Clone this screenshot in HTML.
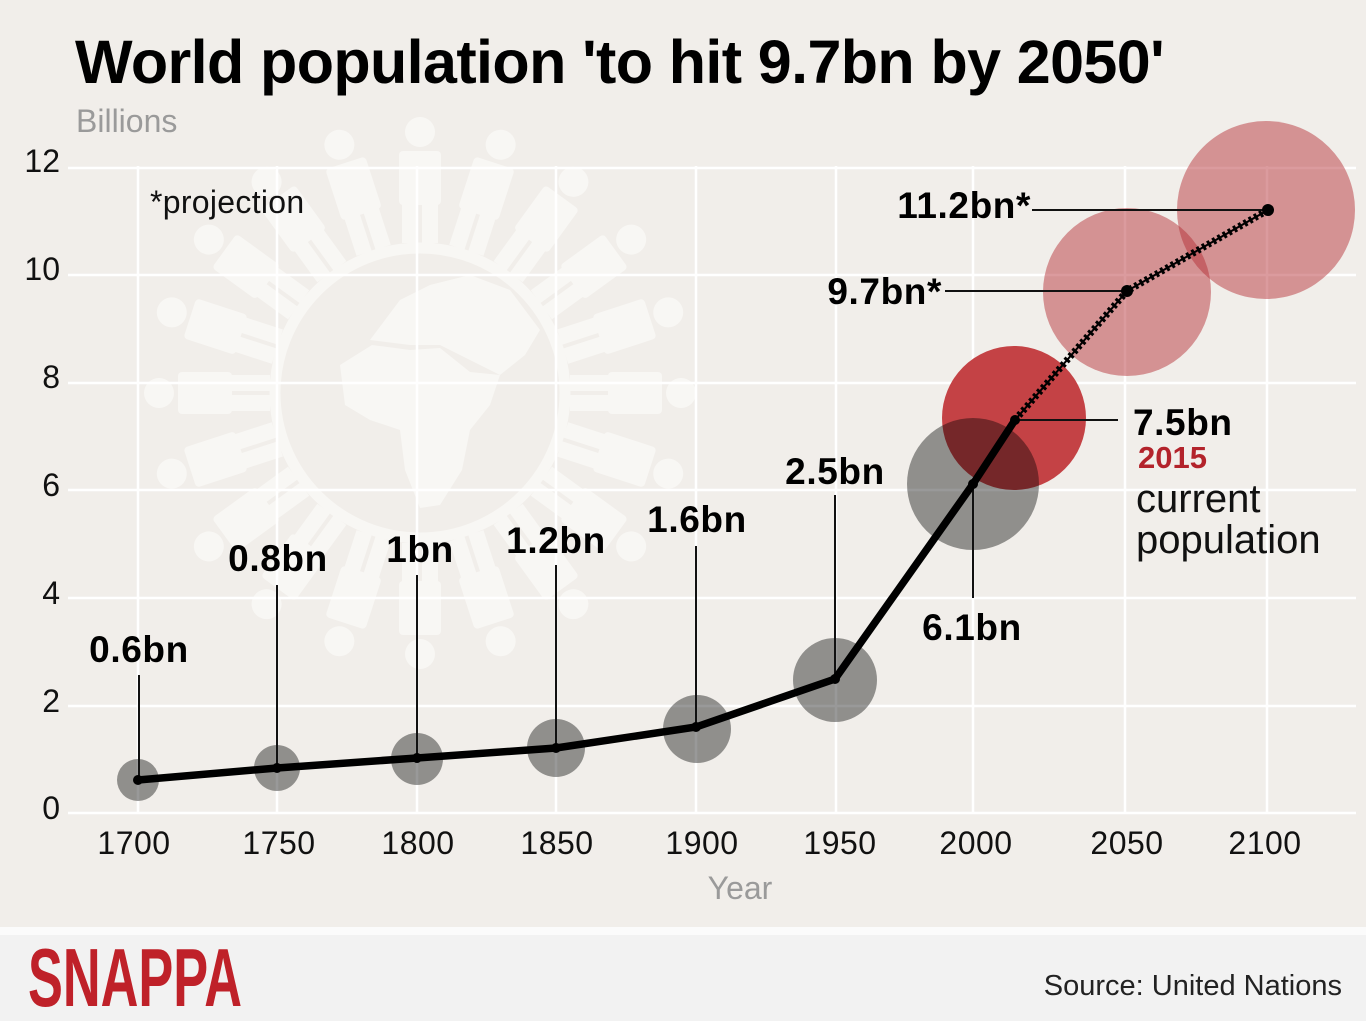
<!DOCTYPE html>
<html><head><meta charset="utf-8"><style>
html,body{margin:0;padding:0;background:#f1eeea;}
svg{display:block;}
text{font-family:"Liberation Sans",Arial,sans-serif;}
</style></head><body>
<svg width="1366" height="1021" viewBox="0 0 1366 1021" xmlns="http://www.w3.org/2000/svg">
<rect x="0" y="0" width="1366" height="927" fill="#f1eeea"/>
<rect x="0" y="927" width="1366" height="8" fill="#fbfbfb"/>
<rect x="0" y="935" width="1366" height="86" fill="#f2f2f2"/>

<!-- watermark globe -->
<g fill="#f8f7f4">
  <circle cx="420" cy="393" r="145" fill="none" stroke="#f8f7f4" stroke-width="11"/>
  <path d="M340,365 L372,345 L410,350 L440,348 L470,372 L500,375 L490,405 L470,430 L462,470 L440,505 L420,508 L405,470 L400,430 L370,420 L345,405 Z"/>
  <path d="M370,340 L385,320 L400,300 L430,285 L470,275 L510,290 L540,330 L525,355 L500,375 L470,360 L440,345 L410,345 Z"/>
  <g id="fig">
    <circle cx="420" cy="132" r="15"/>
    <rect x="399" y="151" width="42" height="54" rx="4"/>
    <rect x="402" y="203" width="16" height="40"/>
    <rect x="422" y="203" width="16" height="40"/>
  </g>
  <use href="#fig" transform="rotate(18 420 393)"/>
  <use href="#fig" transform="rotate(36 420 393)"/>
  <use href="#fig" transform="rotate(54 420 393)"/>
  <use href="#fig" transform="rotate(72 420 393)"/>
  <use href="#fig" transform="rotate(90 420 393)"/>
  <use href="#fig" transform="rotate(108 420 393)"/>
  <use href="#fig" transform="rotate(126 420 393)"/>
  <use href="#fig" transform="rotate(144 420 393)"/>
  <use href="#fig" transform="rotate(162 420 393)"/>
  <use href="#fig" transform="rotate(180 420 393)"/>
  <use href="#fig" transform="rotate(198 420 393)"/>
  <use href="#fig" transform="rotate(216 420 393)"/>
  <use href="#fig" transform="rotate(234 420 393)"/>
  <use href="#fig" transform="rotate(252 420 393)"/>
  <use href="#fig" transform="rotate(270 420 393)"/>
  <use href="#fig" transform="rotate(288 420 393)"/>
  <use href="#fig" transform="rotate(306 420 393)"/>
  <use href="#fig" transform="rotate(324 420 393)"/>
  <use href="#fig" transform="rotate(342 420 393)"/>
</g>

<!-- gridlines -->
<g stroke="#ffffff" stroke-width="2.5">
  <line x1="68" y1="168" x2="1356" y2="168"/>
  <line x1="68" y1="275" x2="1356" y2="275"/>
  <line x1="68" y1="383" x2="1356" y2="383"/>
  <line x1="68" y1="490" x2="1356" y2="490"/>
  <line x1="68" y1="598" x2="1356" y2="598"/>
  <line x1="68" y1="706" x2="1356" y2="706"/>
  <line x1="68" y1="813" x2="1356" y2="813"/>
  <line x1="138" y1="166" x2="138" y2="813"/>
  <line x1="277" y1="166" x2="277" y2="813"/>
  <line x1="417" y1="166" x2="417" y2="813"/>
  <line x1="556" y1="166" x2="556" y2="813"/>
  <line x1="696" y1="166" x2="696" y2="813"/>
  <line x1="836" y1="166" x2="836" y2="813"/>
  <line x1="973" y1="166" x2="973" y2="813"/>
  <line x1="1125" y1="166" x2="1125" y2="813"/>
  <line x1="1267" y1="166" x2="1267" y2="813"/>
</g>

<!-- bubbles -->
<circle cx="1014" cy="418" r="72" fill="#c44245"/>
<g fill="rgba(0,0,0,0.4)">
  <circle cx="138" cy="780" r="21"/>
  <circle cx="277" cy="768" r="23"/>
  <circle cx="417" cy="759" r="26"/>
  <circle cx="556" cy="748" r="29"/>
  <circle cx="697" cy="729" r="34"/>
  <circle cx="835" cy="680" r="42"/>
  <circle cx="973" cy="484" r="66"/>
</g>
<g fill="rgba(180,45,50,0.475)">
  <circle cx="1127" cy="292" r="84"/>
  <circle cx="1266" cy="210" r="89"/>
</g>

<!-- leader lines -->
<g stroke="#111" stroke-width="2">
  <line x1="139" y1="675" x2="139" y2="780"/>
  <line x1="277" y1="585" x2="277" y2="768"/>
  <line x1="417" y1="575" x2="417" y2="758"/>
  <line x1="556" y1="565" x2="556" y2="748"/>
  <line x1="696" y1="546" x2="696" y2="727"/>
  <line x1="835" y1="495" x2="835" y2="679"/>
  <line x1="973" y1="484" x2="973" y2="598"/>
  <line x1="1015" y1="420" x2="1118" y2="420"/>
  <line x1="945" y1="291" x2="1127" y2="291"/>
  <line x1="1032" y1="210" x2="1268" y2="210"/>
</g>

<!-- data line -->
<polyline points="138,780 277,768 417,758 556,748 696,727 835,679 973,484 1015,420" fill="none" stroke="#000" stroke-width="7.5" stroke-linejoin="miter" stroke-linecap="round"/>
<polyline points="1015,420 1127,291 1268,210" fill="none" stroke="#000" stroke-width="2"/>
<polyline points="1015,420 1127,291 1268,210" fill="none" stroke="#000" stroke-width="7" stroke-dasharray="3 3"/>
<g fill="#000">
  <circle cx="138" cy="780" r="5"/>
  <circle cx="277" cy="768" r="5"/>
  <circle cx="417" cy="758" r="5"/>
  <circle cx="556" cy="748" r="5"/>
  <circle cx="696" cy="727" r="5"/>
  <circle cx="835" cy="679" r="5"/>
  <circle cx="973" cy="484" r="5"/>
  <circle cx="1015" cy="420" r="5"/>
  <circle cx="1127" cy="291" r="6"/>
  <circle cx="1268" cy="210" r="6"/>
</g>

<!-- title -->
<text x="75" y="83" font-size="61" font-weight="bold" letter-spacing="-0.6" fill="#000">World population 'to hit 9.7bn by 2050'</text>
<text x="76" y="132" font-size="32" fill="#9a9a9a">Billions</text>
<text x="150" y="213" font-size="32" letter-spacing="0.3" fill="#111">*projection</text>

<!-- y axis labels -->
<g font-size="32" fill="#111" text-anchor="end">
  <text x="60" y="172">12</text>
  <text x="60" y="280">10</text>
  <text x="60" y="388">8</text>
  <text x="60" y="496">6</text>
  <text x="60" y="604">4</text>
  <text x="60" y="712">2</text>
  <text x="60" y="819">0</text>
</g>

<!-- x axis labels -->
<g font-size="32" fill="#111" text-anchor="middle" letter-spacing="0.5">
  <text x="134" y="854">1700</text>
  <text x="279" y="854">1750</text>
  <text x="418" y="854">1800</text>
  <text x="557" y="854">1850</text>
  <text x="702" y="854">1900</text>
  <text x="840" y="854">1950</text>
  <text x="976" y="854">2000</text>
  <text x="1127" y="854">2050</text>
  <text x="1265" y="854">2100</text>
</g>
<text x="740" y="899" font-size="32" fill="#9a9a9a" text-anchor="middle">Year</text>

<!-- value labels -->
<g font-size="37" font-weight="bold" fill="#000" letter-spacing="0.6">
  <text x="139" y="662" text-anchor="middle">0.6bn</text>
  <text x="278" y="571" text-anchor="middle">0.8bn</text>
  <text x="420" y="562" text-anchor="middle">1bn</text>
  <text x="556" y="553" text-anchor="middle">1.2bn</text>
  <text x="697" y="532" text-anchor="middle">1.6bn</text>
  <text x="835" y="484" text-anchor="middle">2.5bn</text>
  <text x="972" y="640" text-anchor="middle">6.1bn</text>
  <text x="942" y="304" text-anchor="end">9.7bn*</text>
  <text x="1031" y="218" text-anchor="end">11.2bn*</text>
  <text x="1133" y="435">7.5bn</text>
</g>
<text x="1138" y="468" font-size="31" font-weight="bold" fill="#b3232b">2015</text>
<text x="1136" y="512" font-size="40" fill="#111">current</text>
<text x="1136" y="553" font-size="40" fill="#111">population</text>

<!-- footer -->
<text transform="translate(28,1006) scale(0.63,1)" font-size="83" font-weight="bold" fill="#bf2129">SNAPPA</text>
<text x="1342" y="995" font-size="29" fill="#222" text-anchor="end">Source: United Nations</text>
</svg>
</body></html>
